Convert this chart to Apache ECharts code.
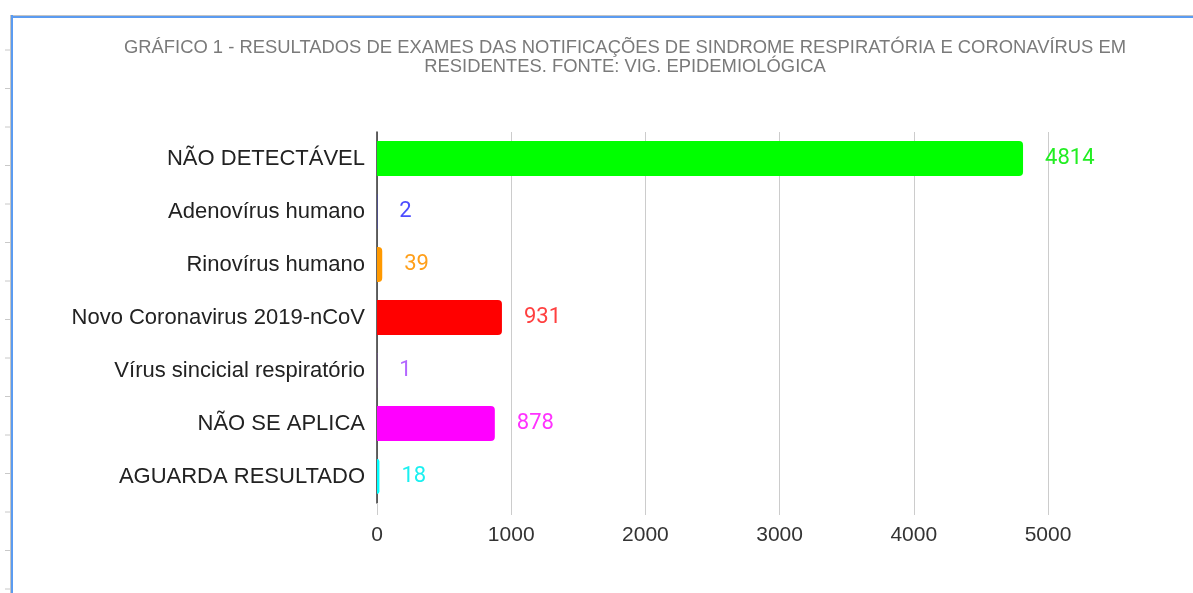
<html>
  <head>
    <title>Resultados de exames</title>
    <script src="https://cdn.jsdelivr.net/npm/echarts@6/dist/echarts.min.js"></script>
    <style>
      html, body {
        margin: 0;
        padding: 0;
        background: #ffffff;
      }
      #chart {
        position: absolute;
        left: 0;
        top: 0;
        width: 1193px;
        height: 593px;
      }
      /* moldura da captura */
      .frame-top {
        position: absolute;
        left: 10px;
        top: 15px;
        width: 1183px;
        height: 1px;
        background: #c4c4c4;
        border-bottom: 2px solid #5b9bf0;
      }
      .frame-left {
        position: absolute;
        left: 10px;
        top: 15px;
        width: 1px;
        height: 578px;
        background: #c4c4c4;
        border-right: 2px solid #5b9bf0;
      }
      .ruler {
        position: absolute;
        left: 5px;
        top: 12px;
        width: 5px;
        height: 581px;
        background: repeating-linear-gradient(to bottom, transparent 0, transparent 38px, #c8c8c8 38px, #c8c8c8 39px);
        background-size: 5px 38.5px;
      }
    </style>
  </head>

  <body>
    <div id="chart"></div>
    <div class="ruler"></div>
    <div class="frame-top"></div>
    <div class="frame-left"></div>

    <script>
      // dados do gráfico
      const categories = [
        'NÃO DETECTÁVEL',
        'Adenovírus humano',
        'Rinovírus humano',
        'Novo Coronavirus 2019-nCoV',
        'Vírus sincicial respiratório',
        'NÃO SE APLICA',
        'AGUARDA RESULTADO'
      ]
      const values = [4814, 2, 39, 931, 1, 878, 18]
      const colors = ['#00ff00', '#3333ff', '#ff9900', '#ff0000', '#9933ff', '#ff00ff', '#00ffff']
      const labelColors = ['#22ee22', '#4d4dff', '#ff9f1a', '#ff4040', '#b366ff', '#ff33ff', '#1af0f0']
      const ticks = [0, 1000, 2000, 3000, 4000, 5000]

      const chart = echarts.init(document.getElementById('chart'))

      chart.setOption({
        animation: false,
        title: {
          text: 'GRÁFICO 1 - RESULTADOS DE EXAMES DAS NOTIFICAÇÕES DE SINDROME RESPIRATÓRIA E CORONAVÍRUS EM\nRESIDENTES. FONTE: VIG. EPIDEMIOLÓGICA',
          left: 620,
          top: 33,
          textAlign: 'center',
          textStyle: {
            fontFamily: 'Liberation Sans',
            fontSize: 18.4,
            fontWeight: 'normal',
            color: '#7a7a7a',
            lineHeight: 19
          }
        },
        grid: {
          left: 377,
          right: 145,
          top: 132,
          height: 371
        },
        xAxis: {
          type: 'value',
          min: ticks[0],
          max: ticks[ticks.length - 1],
          interval: 1000,
          axisLine: { show: false },
          axisTick: {
            show: true,
            length: 12,
            lineStyle: { color: '#cccccc' }
          },
          splitLine: {
            lineStyle: { color: '#cccccc', width: 1 }
          },
          axisLabel: {
            margin: 22,
            formatter: v => String(v),
            fontFamily: 'Liberation Sans',
            fontSize: 21,
            color: '#333333'
          }
        },
        yAxis: {
          type: 'category',
          data: categories,
          inverse: true,
          axisLine: {
            lineStyle: { color: '#333333', width: 1.5 }
          },
          axisTick: { show: false },
          axisLabel: {
            margin: 12,
            fontFamily: 'Liberation Sans',
            fontSize: 22,
            color: '#222222'
          }
        },
        series: [
          {
            type: 'bar',
            barWidth: 35,
            data: values.map((v, i) => ({
              value: v,
              itemStyle: { color: colors[i], borderRadius: [0, 4, 4, 0] },
              label: { color: labelColors[i] }
            })),
            label: {
              show: true,
              position: 'right',
              distance: 22,
              fontFamily: 'Roboto',
              fontSize: 22,
              fontWeight: 'normal'
            }
          }
        ]
      })
    </script>
  </body>
</html>
